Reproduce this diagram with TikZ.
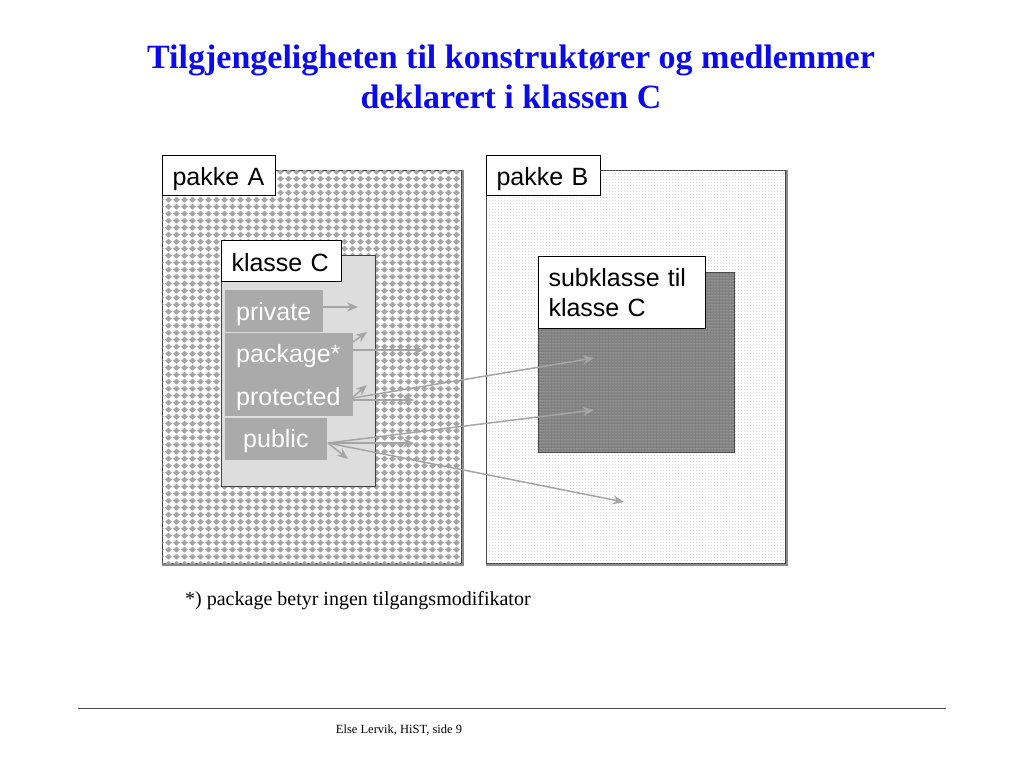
\documentclass[tikz,border=0pt]{standalone}
\usepackage{fontspec}
\setmainfont{Liberation Serif}
\setsansfont{Liberation Sans}
\usetikzlibrary{patterns,arrows.meta}
\definecolor{titleblue}{RGB}{10,10,235}
\definecolor{arrowgray}{RGB}{165,165,165}
\definecolor{membergray}{RGB}{170,170,170}
\definecolor{classgray}{RGB}{221,221,221}
\definecolor{diamondgray}{RGB}{165,165,165}
\definecolor{dotgray}{RGB}{170,170,170}
\definecolor{subgray}{RGB}{128,128,128}
\definecolor{subline}{RGB}{180,180,180}
\pgfdeclarepatternformonly{diamonddots}{\pgfqpoint{0pt}{0pt}}{\pgfqpoint{7.5pt}{7.2pt}}{\pgfqpoint{7.5pt}{7.2pt}}{%
  \pgfpathmoveto{\pgfqpoint{3.75pt}{0.3pt}}%
  \pgfpathlineto{\pgfqpoint{7.3pt}{3.6pt}}%
  \pgfpathlineto{\pgfqpoint{3.75pt}{6.9pt}}%
  \pgfpathlineto{\pgfqpoint{0.2pt}{3.6pt}}%
  \pgfpathclose\pgfusepath{fill}}
\pgfdeclarepatternformonly{finedots}{\pgfqpoint{0pt}{0pt}}{\pgfqpoint{3pt}{3pt}}{\pgfqpoint{3pt}{3pt}}{%
  \pgfpathrectangle{\pgfqpoint{0.5pt}{0.5pt}}{\pgfqpoint{1.1pt}{1.1pt}}\pgfusepath{fill}}
\pgfdeclarepatternformonly{sublines}{\pgfqpoint{0pt}{0pt}}{\pgfqpoint{3pt}{3pt}}{\pgfqpoint{3pt}{3pt}}{%
  \pgfpathrectangle{\pgfqpoint{0pt}{1pt}}{\pgfqpoint{3pt}{0.8pt}}\pgfusepath{fill}}
\tikzset{
  pkgbox/.style={draw=black!75, line width=1pt, anchor=north west, inner sep=0pt},
  pkgshadow/.style={draw=black!45, line width=1.5pt},
  lblbox/.style={draw=black, line width=1pt, fill=white, anchor=north west, font=\sffamily\fontsize{25}{30}\selectfont, align=left, inner xsep=10pt, inner ysep=0pt},
  onelbl/.style={lblbox, text height=20pt, text depth=0pt},
  member/.style={fill=membergray, anchor=north west, inner sep=0pt},
  membertext/.style={text=white, font=\sffamily\fontsize{25}{30}\selectfont, anchor=base west, inner sep=0pt},
  acc/.style={draw=arrowgray, line width=1.5pt, -{Stealth[length=11pt,width=9pt,inset=3.5pt]}},
}
\begin{document}
\begin{tikzpicture}[x=1pt,y=-1pt]
\useasboundingbox (0,0) rectangle (1024,768);
% title
\node[font=\bfseries\fontsize{34}{40}\selectfont, text=titleblue, anchor=base] (t1) at (511,68) {Tilgjengeligheten til konstruktører og medlemmer};
\node[font=\bfseries\fontsize{34}{40}\selectfont, text=titleblue, anchor=base] (t2) at (511,108) {deklarert i klassen C};
% pakke A
\node[pkgbox, fill=white, minimum width=299pt, minimum height=393pt, postaction={pattern=diamonddots, pattern color=diamondgray}] (A) at (162,170) {};
\draw[pkgshadow] ([xshift=1pt]A.north east) -- ([xshift=1pt,yshift=-1pt]A.south east) -- ([yshift=-1pt]A.south west);
\node[onelbl, text width=93pt, minimum height=40pt] (Alab) at (162,155) {pakke A};
% pakke B
\node[pkgbox, fill=white, minimum width=299pt, minimum height=393pt, postaction={pattern=finedots, pattern color=dotgray}] (B) at (486,170) {};
\draw[pkgshadow] ([xshift=1pt]B.north east) -- ([xshift=1pt,yshift=-1pt]B.south east) -- ([yshift=-1pt]B.south west);
\node[onelbl, text width=94pt, minimum height=40pt] (Blab) at (486,155) {pakke B};
% klasse C
\node[pkgbox, fill=classgray, minimum width=154pt, minimum height=231pt] (C) at (221,255) {};
\node[onelbl, text width=100pt, minimum height=41pt] (Clab) at (221,240) {klasse C};
% subklasse
\node[pkgbox, fill=subgray, minimum width=196pt, minimum height=180pt, postaction={pattern=sublines, pattern color=subline}] (S) at (538,272) {};
\node[lblbox, text width=147pt, minimum height=72pt] (Slab) at (538,256) {subklasse til\\klasse C};
% members
\node[member, minimum width=98pt, minimum height=42pt] (priv) at (225,290) {};
\node[membertext] (privt) at (236,320) {private};
\node[member, minimum width=128pt, minimum height=83pt] (pp) at (225,333) {};
\node[membertext] (packt) at (236,362) {package*};
\node[membertext] (prott) at (236,405) {protected};
\node[member, minimum width=102pt, minimum height=42pt] (pub) at (225,418) {};
\node[membertext] (pubt) at (243,447) {public};
% arrow coordinates
\coordinate (sPriv) at (323,307);
\coordinate (ePriv) at (358,307);
\coordinate (sPk1) at (353,342);
\coordinate (ePk1) at (367,332);
\coordinate (sPk2) at (353,350);
\coordinate (ePk2) at (424,350);
\coordinate (sPr1) at (353,397);
\coordinate (ePr1) at (367,385);
\coordinate (sPr2) at (353,400);
\coordinate (ePr2) at (414,400);
\coordinate (sPr3) at (353,398);
\coordinate (ePr3) at (594,358);
\coordinate (sPu) at (328,443);
\coordinate (ePu1) at (414,443);
\coordinate (ePu2) at (348,459);
\coordinate (ePu3) at (594,410);
\coordinate (ePu4) at (624,502);
\draw[acc] (sPriv) -- (ePriv);
\draw[acc] (sPk1) -- (ePk1);
\draw[acc] (sPk2) -- (ePk2);
\draw[acc] (sPr1) -- (ePr1);
\draw[acc] (sPr2) -- (ePr2);
\draw[acc] (sPr3) -- (ePr3);
\draw[acc] (sPu) -- (ePu1);
\draw[acc] (sPu) -- (ePu2);
\draw[acc] (sPu) -- (ePu3);
\draw[acc] (sPu) -- (ePu4);
% footnote
\node[font=\fontsize{20}{24}\selectfont, anchor=base west, inner sep=0pt] (foot) at (185,605) {*) package betyr ingen tilgangsmodifikator};
% footer
\coordinate (lineL) at (78,708);
\coordinate (lineR) at (946,708);
\draw[black!70, line width=1pt] (lineL) -- (lineR);
\node[font=\fontsize{12.5}{15}\selectfont, anchor=base, inner sep=0pt] (footer) at (399,733) {Else Lervik, HiST, side 9};
\end{tikzpicture}
\end{document}
